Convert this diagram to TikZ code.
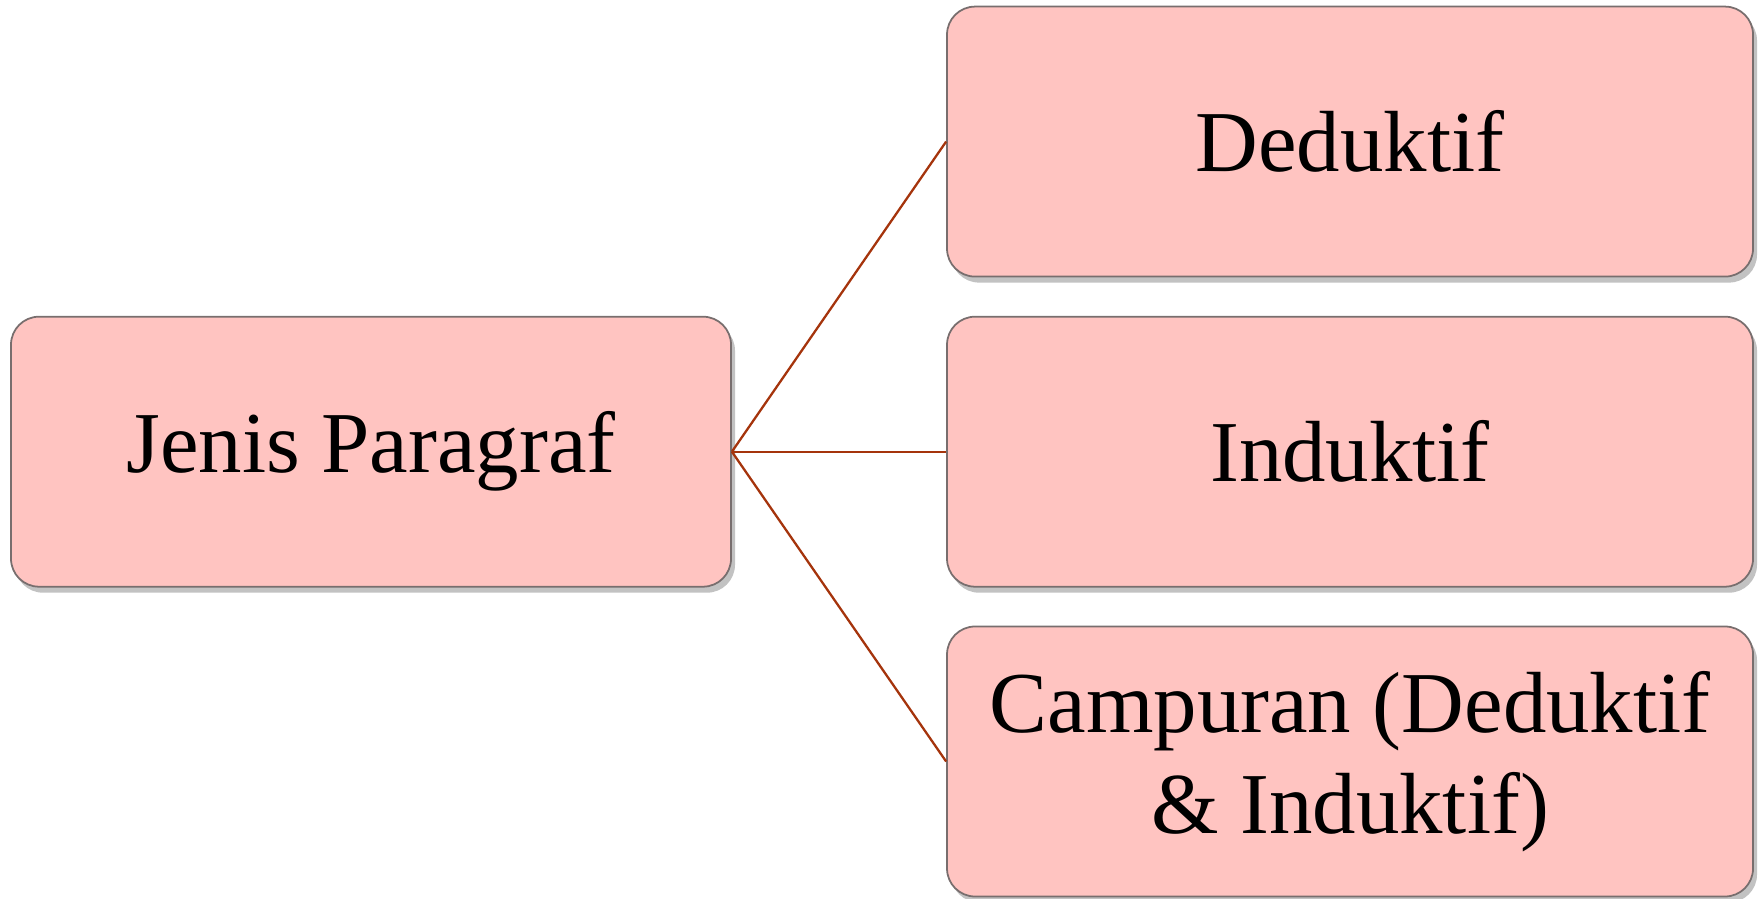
\documentclass[tikz,border=0pt]{standalone}
\usepackage{fontspec}
\setmainfont{Liberation Serif}
\usetikzlibrary{shadows}

\definecolor{boxpink}{RGB}{255,196,193}
\definecolor{boxedge}{RGB}{120,110,110}
\definecolor{linkred}{RGB}{165,52,12}

\tikzset{
  typebox/.style={draw=boxedge,line width=0.5pt,fill=boxpink,rounded corners=0.28cm,
    drop shadow={shadow xshift=0.04cm,shadow yshift=-0.06cm,opacity=0.4,fill=black!60},
    minimum height=2.7cm,align=center,font=\fontsize{24.7}{28.7}\selectfont,inner sep=0pt},
  link/.style={draw=linkred,line width=0.65pt}
}

\begin{document}
\begin{tikzpicture}
\useasboundingbox (0,0) rectangle (17.62,8.98);
\node[typebox,minimum width=7.20cm] (jenis) at (3.71,4.463) {Jenis Paragraf};
\node[typebox,minimum width=8.06cm] (deduktif) at (13.50,7.564) {Deduktif};
\node[typebox,minimum width=8.06cm] (induktif) at (13.50,4.463) {Induktif};
\node[typebox,minimum width=8.06cm] (campuran) at (13.50,1.365) {Campuran (Deduktif\\ \& Induktif)};
% connectors
\draw[link] (jenis.east) -- (deduktif.west);
\draw[link] (jenis.east) -- (induktif.west);
\draw[link] (jenis.east) -- (campuran.west);
\end{tikzpicture}
\end{document}
